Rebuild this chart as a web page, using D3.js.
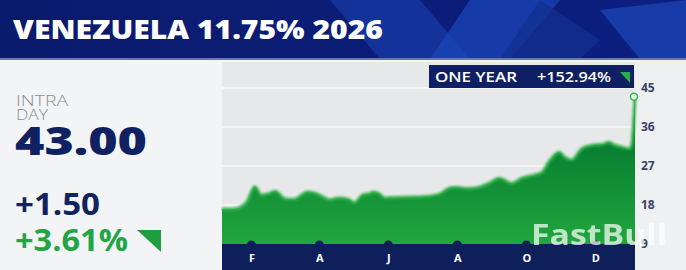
<!DOCTYPE html>
<html>
<head>
<meta charset="UTF-8">
<style>
  body { margin: 0; background: #f3f4f5; }
  svg text { font-family: "Open Sans", sans-serif; }
</style>
</head>
<body>
<script src="https://cdn.jsdelivr.net/npm/d3@7"></script>
<script>
// one year of closing prices
var dates = ["2024-01-06","2024-01-14","2024-01-21","2024-01-28","2024-02-04","2024-02-10","2024-02-16","2024-02-22",
  "2024-03-02","2024-03-10","2024-03-15","2024-03-21","2024-03-27","2024-04-01","2024-04-10","2024-04-18","2024-04-27",
  "2024-05-02","2024-05-09","2024-05-15","2024-05-19","2024-05-24","2024-05-29","2024-06-13","2024-07-01","2024-07-16",
  "2024-07-25","2024-07-30","2024-08-11","2024-08-17","2024-08-29","2024-09-07","2024-09-18","2024-09-27","2024-10-09",
  "2024-10-15","2024-10-21","2024-10-30","2024-11-04","2024-11-10","2024-11-19","2024-11-28","2024-12-07","2024-12-13",
  "2024-12-18","2024-12-24","2024-12-31","2025-01-02","2025-01-05"];
var prices = [17.1, 17.0, 17.3, 18.7, 22.2, 20.3, 20.6, 21.2,
  19.4, 19.3, 20.0, 21.0, 20.8, 20.3, 19.2, 19.6, 19.3,
  18.5, 20.3, 20.6, 21.0, 20.6, 19.6, 19.8, 19.9, 20.5,
  21.9, 22.1, 21.8, 21.9, 23.0, 24.2, 23.0, 24.2, 25.0,
  25.6, 28.0, 30.2, 29.0, 28.4, 31.0, 31.8, 32.0, 32.5,
  31.8, 31.4, 31.0, 31.8, 43.0];
var yTicks = [9, 18, 27, 36, 45];
var monthTicks = ["2024-02-01","2024-04-01","2024-06-01","2024-08-01","2024-10-01","2024-12-01"];
var monthLabels = ["F", "A", "J", "A", "O", "D"];
var title = "VENEZUELA 11.75% 2026";
var lastPrice = "43.00", change = "+1.50", changePct = "+3.61%", yearChange = "+152.94%";

var W = 686, H = 270;
var parse = d3.timeParse("%Y-%m-%d");
var data = dates.map((d, i) => ({ date: parse(d), value: prices[i] }));

var svg = d3.select("body").append("svg").attr("width", W).attr("height", H);
var defs = svg.append("defs");

function label(xp, yp, txt, size, weight, color, len) {
  var t = svg.append("text").attr("x", xp).attr("y", yp).attr("fill", color)
    .attr("font-size", size).attr("font-weight", weight).text(txt);
  if (len) t.attr("textLength", len).attr("lengthAdjust", "spacingAndGlyphs");
  return t;
}

// header
var hdr = defs.append("linearGradient").attr("id", "hdr").attr("x1", 0).attr("x2", 1);
hdr.append("stop").attr("offset", "0%").attr("stop-color", "#0a1a6c");
hdr.append("stop").attr("offset", "100%").attr("stop-color", "#0d1f80");
svg.append("rect").attr("width", W).attr("height", 59).attr("fill", "url(#hdr)");
var shapes = [
  [[330, 0], [420, 0], [470, 59], [380, 59]],
  [[470, 0], [560, 0], [510, 59], [430, 59]],
  [[540, 0], [600, 40], [580, 59], [500, 59]],
  [[600, 10], [686, 0], [686, 59], [640, 59]]
];
svg.selectAll(".shape").data(shapes).enter().append("polygon")
  .attr("points", d => d.map(p => p.join(",")).join(" "))
  .attr("fill", (d, i) => ["#163aa6", "#1a45b8", "#12308f", "#1b45b5"][i])
  .attr("opacity", 0.75);
svg.append("rect").attr("y", 58).attr("width", W).attr("height", 2).attr("fill", "#6a74b8");
label(13, 39, title, 27, 800, "#fff", 370);

// left panel
svg.append("rect").attr("y", 60).attr("width", 222).attr("height", 210).attr("fill", "#f3f4f5");
label(16, 106, "INTRA", 14, 300, "#8a8d92", 52);
label(16, 120, "DAY", 14, 300, "#8a8d92", 32);
label(15, 155, lastPrice, 38, 800, "#0f2160", 132);
label(15, 215, change, 30, 700, "#13235e", 85);
label(15, 251, changePct, 30, 700, "#22a545", 113);
svg.append("polygon").attr("points", "137,230 161,230 161,252").attr("fill", "#1f9e40");

// chart
var x0 = 222, x1 = 635, yTop = 62, yBase = 244;
var x = d3.scaleTime().domain([data[0].date, data[data.length - 1].date]).range([x0, x1]);
var y = d3.scaleLinear().domain([9, 45]).range([244, 88]);

svg.append("rect").attr("x", x0).attr("y", yTop).attr("width", x1 - x0).attr("height", yBase - yTop).attr("fill", "#e6e8e9");
svg.append("rect").attr("x", x1).attr("y", 60).attr("width", W - x1).attr("height", 210).attr("fill", "#eff0f1");

svg.append("g").selectAll("line").data(yTicks.slice(1)).enter().append("line")
  .attr("x1", x0).attr("x2", x1).attr("y1", d => y(d)).attr("y2", d => y(d))
  .attr("stroke", "#f7f8f8").attr("stroke-width", 1.5);

var grad = defs.append("linearGradient").attr("id", "area").attr("x1", 0).attr("x2", 0).attr("y1", 0).attr("y2", 1);
grad.append("stop").attr("offset", "0%").attr("stop-color", "#06692b");
grad.append("stop").attr("offset", "45%").attr("stop-color", "#0c8634");
grad.append("stop").attr("offset", "100%").attr("stop-color", "#22a63e");
var blur = defs.append("filter").attr("id", "blur");
blur.append("feGaussianBlur").attr("stdDeviation", 0.8);

var area = d3.area().x(d => x(d.date)).y0(yBase).y1(d => y(d.value)).curve(d3.curveMonotoneX);
var line = d3.line().x(d => x(d.date)).y(d => y(d.value)).curve(d3.curveMonotoneX);
svg.append("path").datum(data).attr("d", area).attr("fill", "url(#area)");
svg.append("path").datum(data).attr("d", line).attr("fill", "none")
  .attr("stroke", "#34b34b").attr("stroke-width", 3).attr("filter", "url(#blur)");
var last = data[data.length - 1];
svg.append("circle").attr("cx", x(last.date) - 1).attr("cy", y(last.value)).attr("r", 3.5)
  .attr("fill", "#e6f3e8").attr("stroke", "#3cb550").attr("stroke-width", 1.5);

// x axis band
svg.append("rect").attr("x", x0).attr("y", yBase).attr("width", x1 - x0).attr("height", H - yBase).attr("fill", "#0e1f5c");
var mt = monthTicks.map(parse);
svg.append("g").selectAll("circle").data(mt).enter().append("circle")
  .attr("cx", d => x(d)).attr("cy", yBase + 1).attr("r", 4.5).attr("fill", "#0e1f5c");
var xAxis = d3.axisBottom(x).tickValues(mt).tickFormat((d, i) => monthLabels[i]).tickSize(0).tickPadding(0);
var gx = svg.append("g").attr("transform", `translate(0,${yBase + 10})`).call(xAxis);
gx.select(".domain").remove();
gx.selectAll("text").attr("fill", "#fff").attr("font-size", 11).attr("font-weight", 700)
  .attr("font-family", "Open Sans, sans-serif");

// y axis labels
var yAxis = d3.axisRight(y).tickValues(yTicks).tickSize(0).tickPadding(0);
var gy = svg.append("g").attr("transform", `translate(${x1 + 6},0)`).call(yAxis);
gy.select(".domain").remove();
gy.selectAll("text").attr("fill", "#3a4468").attr("font-size", 12).attr("font-weight", 700)
  .attr("font-family", "Open Sans, sans-serif");

// one-year box
svg.append("rect").attr("x", 429).attr("y", 65).attr("width", 205).attr("height", 23).attr("fill", "#0e2063");
label(435, 82, "ONE YEAR", 14, 600, "#fff", 82);
label(537, 82, yearChange, 14, 600, "#fff", 74);
svg.append("polygon").attr("points", "620,72 630,72 630,83").attr("fill", "#22b04a");

// watermark
svg.append("text").attr("x", 531).attr("y", 245).attr("fill", "#fff").attr("opacity", 0.72)
  .attr("font-size", 28).attr("font-weight", 700).attr("font-family", "Roboto, sans-serif")
  .attr("textLength", 136).attr("lengthAdjust", "spacingAndGlyphs").text("FastBull");
</script>
</body>
</html>
